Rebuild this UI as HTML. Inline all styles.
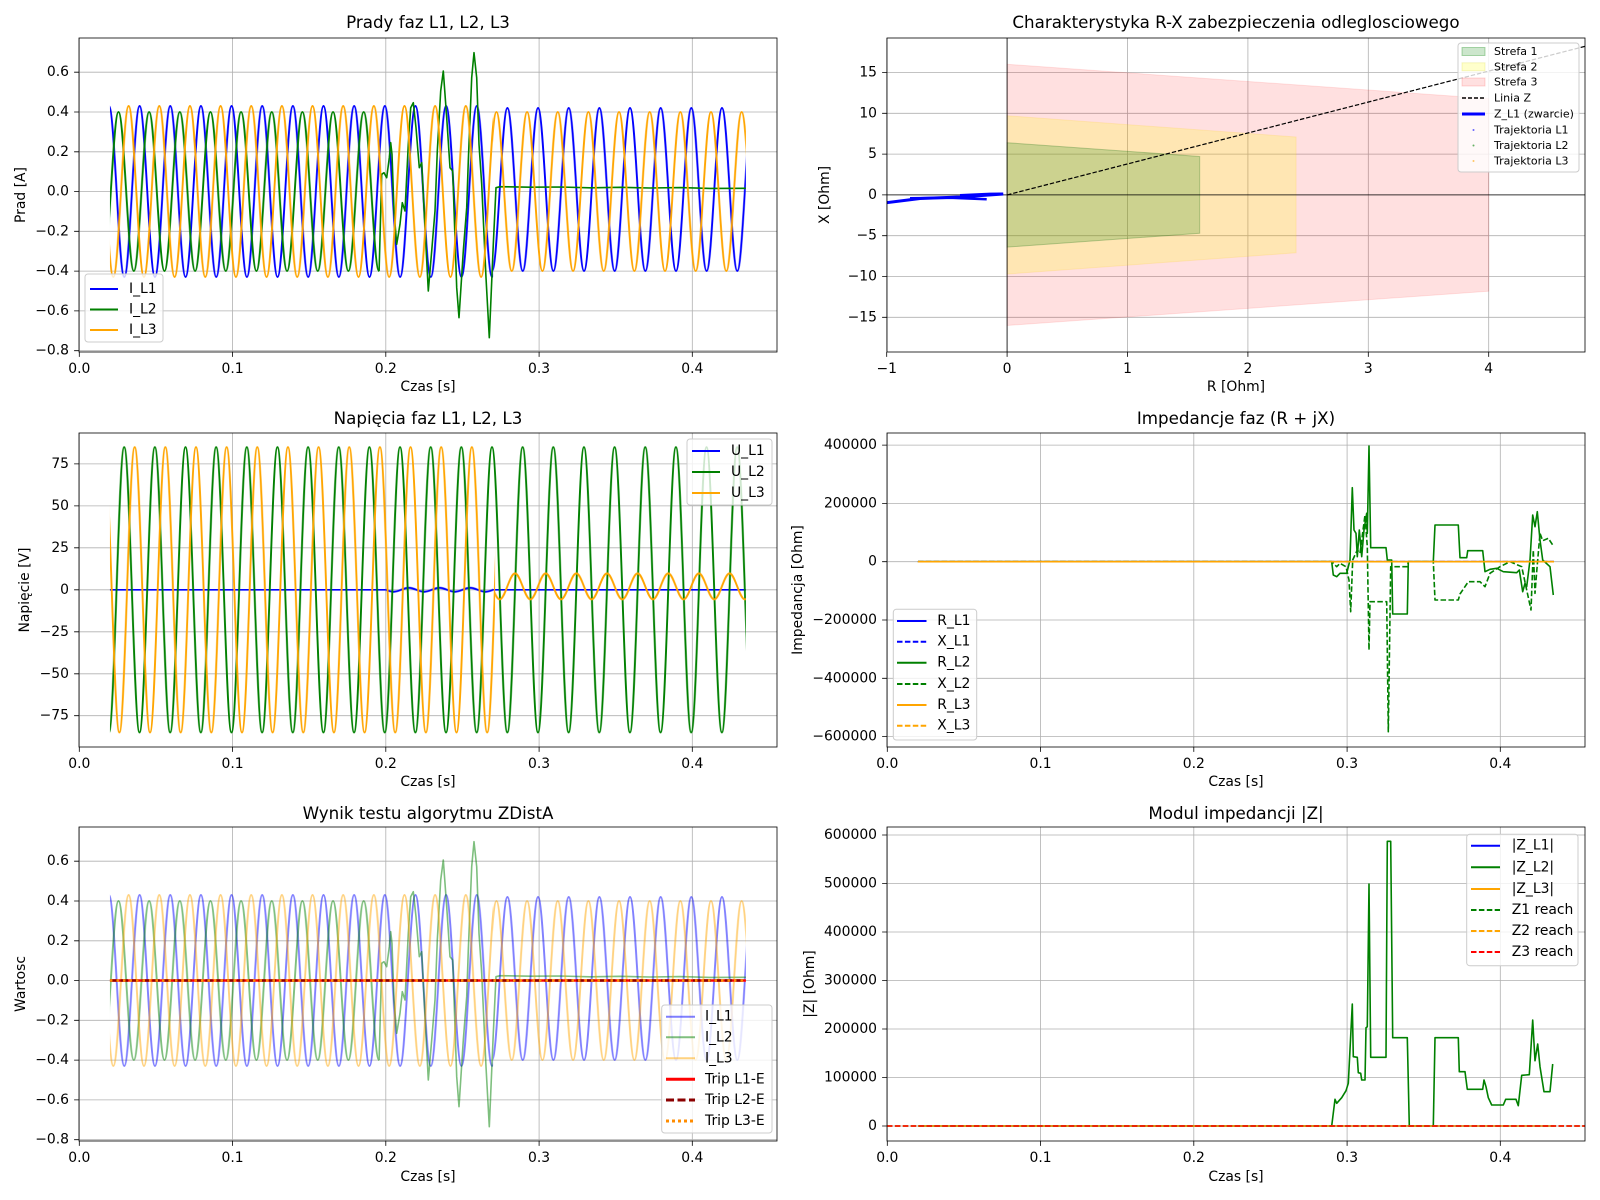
<!DOCTYPE html>
<html><head><meta charset="utf-8">
<style>
html,body{margin:0;padding:0;background:#fff;}
svg{display:block;font-family:"DejaVu Sans","Liberation Sans",sans-serif;}
.tk{font-size:13.9px;fill:#000;}
.tt{font-size:16.7px;fill:#000;text-anchor:middle;}
.lb{font-size:13.9px;fill:#000;text-anchor:middle;}
.lg{font-size:13.9px;fill:#000;}
.lgs{font-size:11px;fill:#000;}
</style></head>
<body>
<svg width="1600" height="1200" viewBox="0 0 1600 1200" xmlns="http://www.w3.org/2000/svg" xmlns:xlink="http://www.w3.org/1999/xlink">
<defs>
<clipPath id="c1"><rect x="79" y="38" width="698" height="314"/></clipPath>
<clipPath id="c2"><rect x="887" y="38" width="698" height="314"/></clipPath>
<clipPath id="c3"><rect x="79" y="433" width="698" height="314"/></clipPath>
<clipPath id="c4"><rect x="887" y="433" width="698" height="314"/></clipPath>
<clipPath id="c5"><rect x="79" y="827" width="698" height="314"/></clipPath>
<clipPath id="c6"><rect x="887" y="827" width="698" height="314"/></clipPath>

<pattern id="pL1a" patternUnits="userSpaceOnUse" x="108.97" y="41.5" width="30.65" height="300">
<path d="M-2,64.5 L0,64.5 c2.773,0 5.164,41.7 7.6625,85.5 c2.499,43.8 4.889,85.5 7.6625,85.5 c2.773,0 5.164,-41.7 7.6625,-85.5 c2.499,-43.8 4.889,-85.5 7.6625,-85.5 l2,0" fill="none" stroke="#0000ff" stroke-width="1.9"/></pattern>
<pattern id="pL1b" patternUnits="userSpaceOnUse" x="108.97" y="39.5" width="30.65" height="300">
<path d="M-2,68.5 L0,68.5 c2.773,0 5.164,39.75 7.6625,81.5 c2.499,41.75 4.889,81.5 7.6625,81.5 c2.773,0 5.164,-39.75 7.6625,-81.5 c2.499,-41.75 4.889,-81.5 7.6625,-81.5 l2,0" fill="none" stroke="#0000ff" stroke-width="1.9"/></pattern>
<pattern id="pL2" patternUnits="userSpaceOnUse" x="118.5" y="41.5" width="30.65" height="300">
<path d="M-2,70.4 L0,70.4 c2.773,0 5.164,38.82 7.6625,79.6 c2.499,40.78 4.889,79.6 7.6625,79.6 c2.773,0 5.164,-38.82 7.6625,-79.6 c2.499,-40.78 4.889,-79.6 7.6625,-79.6 l2,0" fill="none" stroke="#008000" stroke-width="1.9"/></pattern>
<pattern id="pL3a" patternUnits="userSpaceOnUse" x="128.65" y="41.5" width="30.65" height="300">
<path d="M-2,64.5 L0,64.5 c2.773,0 5.164,41.7 7.6625,85.5 c2.499,43.8 4.889,85.5 7.6625,85.5 c2.773,0 5.164,-41.7 7.6625,-85.5 c2.499,-43.8 4.889,-85.5 7.6625,-85.5 l2,0" fill="none" stroke="#ffa500" stroke-width="1.9"/></pattern>
<pattern id="pL3b" patternUnits="userSpaceOnUse" x="128.65" y="41.5" width="30.65" height="300">
<path d="M-2,70.4 L0,70.4 c2.773,0 5.164,38.82 7.6625,79.6 c2.499,40.78 4.889,79.6 7.6625,79.6 c2.773,0 5.164,-38.82 7.6625,-79.6 c2.499,-40.78 4.889,-79.6 7.6625,-79.6 l2,0" fill="none" stroke="#ffa500" stroke-width="1.9"/></pattern>

<pattern id="pU1" patternUnits="userSpaceOnUse" x="408.8" y="439.8" width="30.65" height="300">
<path d="M-2,148 L0,148 c2.773,0 5.164,0.98 7.6625,2 c2.499,1.02 4.889,2 7.6625,2 c2.773,0 5.164,-0.98 7.6625,-2 c2.499,-1.02 4.889,-2 7.6625,-2 l2,0" fill="none" stroke="#0000ff" stroke-width="1.9"/></pattern>
<pattern id="pU2" patternUnits="userSpaceOnUse" x="124.2" y="439.8" width="30.65" height="300">
<path d="M-2,7.3 L0,7.3 c2.773,0 5.164,69.6 7.6625,142.7 c2.499,73.1 4.889,142.7 7.6625,142.7 c2.773,0 5.164,-69.6 7.6625,-142.7 c2.499,-73.1 4.889,-142.7 7.6625,-142.7 l2,0" fill="none" stroke="#008000" stroke-width="1.9"/></pattern>
<pattern id="pU3" patternUnits="userSpaceOnUse" x="134.7" y="439.8" width="30.65" height="300">
<path d="M-2,7.3 L0,7.3 c2.773,0 5.164,69.6 7.6625,142.7 c2.499,73.1 4.889,142.7 7.6625,142.7 c2.773,0 5.164,-69.6 7.6625,-142.7 c2.499,-73.1 4.889,-142.7 7.6625,-142.7 l2,0" fill="none" stroke="#ffa500" stroke-width="1.9"/></pattern>
<pattern id="pU3s" patternUnits="userSpaceOnUse" x="515" y="436.4" width="30.65" height="300">
<path d="M-2,137 L0,137 c2.773,0 5.164,6.34 7.6625,13 c2.499,6.66 4.889,13 7.6625,13 c2.773,0 5.164,-6.34 7.6625,-13 c2.499,-6.66 4.889,-13 7.6625,-13 l2,0" fill="none" stroke="#ffa500" stroke-width="1.9"/></pattern>
</defs>
<rect width="1600" height="1200" fill="#fff"/>

<g fill="none" stroke="#b0b0b0" stroke-width="0.8">
<path d="M79.3 38V352M232.6 38V352M385.8 38V352M539.1 38V352M692.3 38V352M79 72.2H777M79 112H777M79 151.8H777M79 191.5H777M79 231.3H777M79 271.1H777M79 310.9H777M79 350.7H777"/>
<path d="M886.7 38V352M1007.1 38V352M1127.5 38V352M1247.9 38V352M1368.3 38V352M1488.7 38V352M887 72.5H1585M887 113.3H1585M887 154.1H1585M887 194.9H1585M887 235.7H1585M887 276.5H1585M887 317.3H1585"/>
<path d="M79.3 433V747M232.6 433V747M385.8 433V747M539.1 433V747M692.3 433V747M79 463.9H777M79 505.9H777M79 547.8H777M79 589.8H777M79 631.8H777M79 673.8H777M79 715.7H777"/>
<path d="M887.3 433V747M1040.6 433V747M1193.8 433V747M1347.1 433V747M1500.3 433V747M887 445.1H1585M887 503.4H1585M887 561.7H1585M887 620H1585M887 678.3H1585M887 736.6H1585"/>
<path d="M79.3 827V1141M232.6 827V1141M385.8 827V1141M539.1 827V1141M692.3 827V1141M79 861.2H777M79 901H777M79 940.8H777M79 980.5H777M79 1020.3H777M79 1060.1H777M79 1099.9H777M79 1139.7H777"/>
<path d="M887.3 827V1141M1040.6 827V1141M1193.8 827V1141M1347.1 827V1141M1500.3 827V1141M887 835H1585M887 883.5H1585M887 932H1585M887 980.5H1585M887 1029H1585M887 1077.5H1585M887 1126H1585"/>
</g>

<g clip-path="url(#c1)">
<g id="sL1"><rect x="109.95" y="41.5" width="383.15" height="300" fill="url(#pL1a)"/><rect x="493.1" y="39.5" width="252.8" height="300" fill="url(#pL1b)"/></g>
<g id="sL2"><rect x="109.95" y="41.5" width="269.15" height="300" fill="url(#pL2)"/>
<polyline fill="none" stroke="#008000" stroke-width="1.6" stroke-linejoin="round" points="379.1,271.1 381.7,174.3 384,172.7 386.7,177.7 389.3,157.7 390.7,142.7 392,154.3 394,211 396.7,244.3 400,224.3 402.3,202.7 405,211 408.3,144.3 410.7,107.7 413.3,102.7 416,127.7 419.3,167.7 421.7,162.7 425,227.7 428.3,291 431.7,251 435,211 437.3,151 440.7,91 443.3,71 446.7,117.7 450,167.7 452.7,171 456.7,287.7 459,317.7 463.3,251 466.7,207.7 468.3,161 471.7,77.7 474,52.7 476.7,77.7 479,144.3 481.7,184.3 486,277.7 489.3,337.7 493.3,244.3 496,187.7 500,186.7 530,187.2 560,187 590,187.8 620,187.3 650,188 680,187.6 710,188.4 745.9,188.3"/></g>
<g id="sL3"><rect x="109.95" y="41.5" width="383.15" height="300" fill="url(#pL3a)"/><rect x="493.1" y="41.5" width="252.8" height="300" fill="url(#pL3b)"/></g>
</g>

<g clip-path="url(#c2)">
<polygon points="1007.1,64.3 1488.7,98.6 1488.7,291.2 1007.1,325.5" fill="rgba(255,0,0,0.12)" stroke="rgba(255,0,0,0.1)"/>
<polygon points="1007.1,115.75 1296.1,137 1296.1,252.8 1007.1,274.05" fill="rgba(255,255,0,0.2)" stroke="rgba(255,200,0,0.15)"/>
<polygon points="1007.1,142.7 1199.7,156.5 1199.7,233.3 1007.1,247.1" fill="rgba(0,128,0,0.2)" stroke="rgba(0,100,0,0.25)"/>
<line x1="887" x2="1585" y1="194.9" y2="194.9" stroke="#000" stroke-width="0.8"/>
<line x1="1007.1" x2="1007.1" y1="38" y2="352" stroke="#000" stroke-width="0.8"/>
<line x1="1007.1" y1="194.9" x2="1591" y2="44.8" stroke="#000" stroke-width="1.2" stroke-dasharray="4.4,1.9"/>
<polyline points="884,203 920,198.5 960,197 1003.3,194" fill="none" stroke="#0000ff" stroke-width="3"/>
<polyline points="910,198.3 950,197.8 986.7,199.3" fill="none" stroke="#0000ff" stroke-width="2.5"/>
<polyline points="960,195 990,193.6 1003,193.5" fill="none" stroke="#0000ff" stroke-width="2"/>
</g>

<g clip-path="url(#c3)">
<path d="M109.95 589.8H385.8M493 589.8H745.9" stroke="#0000ff" stroke-width="1.6"/>
<rect x="385.8" y="439.8" width="107.2" height="300" fill="url(#pU1)"/>
<rect x="109.95" y="439.8" width="635.95" height="300" fill="url(#pU2)"/>
<rect x="109.95" y="439.8" width="385.15" height="300" fill="url(#pU3)"/>
<rect x="495.1" y="436.4" width="250.8" height="300" fill="url(#pU3s)"/>
</g>

<g clip-path="url(#c4)" fill="none" stroke-width="1.6" stroke-linejoin="round">
<path d="M917.95 561.7H1553.9" stroke="#0000ff"/>
<path d="M917.95 561.7H1553.9" stroke="#0000ff" stroke-dasharray="5.5,2.4"/>
<polyline stroke="#008000" points="917.95,561.7 1331.7,561.7 1333.3,575 1336.7,576.7 1340,573.3 1346.7,573.3 1350,560 1352.3,487.7 1354,530 1356,533.3 1357.3,556.7 1359.3,530 1361.7,556.7 1364,530 1366.7,513.3 1367.3,533.3 1369,446 1370.7,547.7 1386,547.7 1387.3,560 1391.7,560 1392.7,614 1407.3,614 1408.3,561.7 1433.3,561.7 1435,525 1458.3,525 1460,557.7 1466.7,557.7 1467.7,550.7 1482.7,550.7 1485,571.7 1490,569.3 1496.7,568.3 1503.3,571.7 1516.7,572.7 1519.3,570 1522.7,591.7 1525,583.3 1526.7,586.7 1530,560 1532.7,515 1535,526.7 1537.3,511.7 1540,540 1542.7,560 1550,566.7 1553.3,595"/>
<polyline stroke="#008000" stroke-dasharray="5.5,2.4" points="917.95,561.7 1331.7,561.7 1333.3,563.3 1336.7,566.7 1340,563.3 1346,566.7 1349,580 1350.7,611.7 1352.7,560 1357.3,550 1360,553.3 1365,515 1367.3,546.7 1369,650 1370,601.7 1386.7,601.7 1388.3,731.7 1390.7,566.7 1407.3,566.7 1408.3,561.7 1433.3,561.7 1435,600 1458.3,600 1460,594 1468.3,581.7 1480,581.7 1485,586.7 1490,573.3 1500,566.7 1510,561.7 1521.7,566.7 1526.7,590 1531,610 1533.3,550 1535,593.3 1536.7,571.7 1540,533.3 1542.7,540.7 1548.3,538.3 1552.7,545"/>
<path d="M917.95 561.7H1553.9" stroke="#ffa500"/>
<path d="M917.95 561.7H1553.9" stroke="#ffa500" stroke-dasharray="5.5,2.4"/>
</g>

<g clip-path="url(#c5)">
<use xlink:href="#sL1" href="#sL1" y="789" opacity="0.5"/>
<use xlink:href="#sL2" href="#sL2" y="789" opacity="0.5"/>
<use xlink:href="#sL3" href="#sL3" y="789" opacity="0.5"/>
<path d="M109.95 980.5H745.9" stroke="#ff0000" stroke-width="2.5"/>
<path d="M109.95 980.5H745.9" stroke="#8b0000" stroke-width="2.5" stroke-dasharray="7.4,3.2"/>
<path d="M109.95 980.5H745.9" stroke="#ff8c00" stroke-width="2.5" stroke-dasharray="2.5,4"/>
</g>

<g clip-path="url(#c6)" fill="none" stroke-width="1.6" stroke-linejoin="round">
<path d="M917.95 1126H1553.9" stroke="#0000ff"/>
<polyline stroke="#008000" points="917.95,1126 1331.7,1126 1335,1099.3 1336.7,1103.3 1341.7,1097.7 1346,1090.7 1348.3,1083.3 1352.3,1004 1353.3,1056.7 1357.3,1057.3 1358.3,1072.7 1360.7,1073.3 1361.7,1080 1365,1080 1366,1027.7 1367.3,1026.7 1369,884 1370.7,1057.3 1386,1057.3 1387.3,841.3 1390.7,841.3 1392.7,1037.7 1407.3,1037.7 1409.3,1126 1433.3,1126 1435,1037.7 1458.3,1037.7 1459.3,1071.7 1465,1071.7 1467.3,1089.3 1482.7,1089.3 1484,1080 1486,1086.7 1488.3,1097.7 1491.7,1105 1503.3,1105 1505.7,1099.3 1516,1099.3 1518.3,1105.7 1521.7,1075.3 1529.3,1074.7 1532.7,1020 1535,1060.7 1537.7,1044 1540,1066.7 1544,1091.7 1550,1091.7 1552.7,1064"/>
<path d="M917.95 1126H1553.9" stroke="#ffa500"/>
<path d="M887 1126H1585" stroke="#008000" stroke-dasharray="5.5,2.4"/>
<path d="M887 1126H1585" stroke="#ffa500" stroke-dasharray="5.5,2.4"/>
<path d="M887 1126H1585" stroke="#ff0000" stroke-dasharray="5.5,2.4"/>
</g>

<g fill="none" stroke="#000" stroke-width="0.8">
<rect x="79" y="38" width="698" height="314"/><rect x="887" y="38" width="698" height="314"/>
<rect x="79" y="433" width="698" height="314"/><rect x="887" y="433" width="698" height="314"/>
<rect x="79" y="827" width="698" height="314"/><rect x="887" y="827" width="698" height="314"/>
<path d="M79.3 352v4.9M232.6 352v4.9M385.8 352v4.9M539.1 352v4.9M692.3 352v4.9M79 72.2h-4.9M79 112h-4.9M79 151.8h-4.9M79 191.5h-4.9M79 231.3h-4.9M79 271.1h-4.9M79 310.9h-4.9M79 350.7h-4.9"/>
<path d="M886.7 352v4.9M1007.1 352v4.9M1127.5 352v4.9M1247.9 352v4.9M1368.3 352v4.9M1488.7 352v4.9M887 72.5h-4.9M887 113.3h-4.9M887 154.1h-4.9M887 194.9h-4.9M887 235.7h-4.9M887 276.5h-4.9M887 317.3h-4.9"/>
<path d="M79.3 747v4.9M232.6 747v4.9M385.8 747v4.9M539.1 747v4.9M692.3 747v4.9M79 463.9h-4.9M79 505.9h-4.9M79 547.8h-4.9M79 589.8h-4.9M79 631.8h-4.9M79 673.8h-4.9M79 715.7h-4.9"/>
<path d="M887.3 747v4.9M1040.6 747v4.9M1193.8 747v4.9M1347.1 747v4.9M1500.3 747v4.9M887 445.1h-4.9M887 503.4h-4.9M887 561.7h-4.9M887 620h-4.9M887 678.3h-4.9M887 736.6h-4.9"/>
<path d="M79.3 1141v4.9M232.6 1141v4.9M385.8 1141v4.9M539.1 1141v4.9M692.3 1141v4.9M79 861.2h-4.9M79 901h-4.9M79 940.8h-4.9M79 980.5h-4.9M79 1020.3h-4.9M79 1060.1h-4.9M79 1099.9h-4.9M79 1139.7h-4.9"/>
<path d="M887.3 1141v4.9M1040.6 1141v4.9M1193.8 1141v4.9M1347.1 1141v4.9M1500.3 1141v4.9M887 835h-4.9M887 883.5h-4.9M887 932h-4.9M887 980.5h-4.9M887 1029h-4.9M887 1077.5h-4.9M887 1126h-4.9"/>
</g>

<text class="tt" x="428" y="28">Prady faz L1, L2, L3</text>
<text class="tt" x="1236" y="28">Charakterystyka R-X zabezpieczenia odleglosciowego</text>
<text class="tt" x="428" y="424">Napięcia faz L1, L2, L3</text>
<text class="tt" x="1236" y="424">Impedancje faz (R + jX)</text>
<text class="tt" x="428" y="819">Wynik testu algorytmu ZDistA</text>
<text class="tt" x="1236" y="819">Modul impedancji |Z|</text>

<text class="lb" x="428" y="391">Czas [s]</text>
<text class="lb" x="1236" y="391">R [Ohm]</text>
<text class="lb" x="428" y="786">Czas [s]</text>
<text class="lb" x="1236" y="786">Czas [s]</text>
<text class="lb" x="428" y="1181">Czas [s]</text>
<text class="lb" x="1236" y="1181">Czas [s]</text>

<text class="lb" transform="translate(25,195) rotate(-90)">Prad [A]</text>
<text class="lb" transform="translate(829,195) rotate(-90)">X [Ohm]</text>
<text class="lb" transform="translate(29,590) rotate(-90)">Napięcie [V]</text>
<text class="lb" transform="translate(802,590) rotate(-90)">Impedancja [Ohm]</text>
<text class="lb" transform="translate(25,984) rotate(-90)">Wartosc</text>
<text class="lb" transform="translate(814,984) rotate(-90)">|Z| [Ohm]</text>

<g class="tk" text-anchor="middle">
<text x="79.3" y="373">0.0</text><text x="232.6" y="373">0.1</text><text x="385.8" y="373">0.2</text><text x="539.1" y="373">0.3</text><text x="692.3" y="373">0.4</text>
<text x="886.7" y="373">−1</text><text x="1007.1" y="373">0</text><text x="1127.5" y="373">1</text><text x="1247.9" y="373">2</text><text x="1368.3" y="373">3</text><text x="1488.7" y="373">4</text>
<text x="79.3" y="768">0.0</text><text x="232.6" y="768">0.1</text><text x="385.8" y="768">0.2</text><text x="539.1" y="768">0.3</text><text x="692.3" y="768">0.4</text>
<text x="887.3" y="768">0.0</text><text x="1040.6" y="768">0.1</text><text x="1193.8" y="768">0.2</text><text x="1347.1" y="768">0.3</text><text x="1500.3" y="768">0.4</text>
<text x="79.3" y="1162">0.0</text><text x="232.6" y="1162">0.1</text><text x="385.8" y="1162">0.2</text><text x="539.1" y="1162">0.3</text><text x="692.3" y="1162">0.4</text>
<text x="887.3" y="1162">0.0</text><text x="1040.6" y="1162">0.1</text><text x="1193.8" y="1162">0.2</text><text x="1347.1" y="1162">0.3</text><text x="1500.3" y="1162">0.4</text>
</g>
<g class="tk" text-anchor="end" dominant-baseline="central">
<text x="69" y="72.2">0.6</text><text x="69" y="112">0.4</text><text x="69" y="151.8">0.2</text><text x="69" y="191.5">0.0</text><text x="69" y="231.3">−0.2</text><text x="69" y="271.1">−0.4</text><text x="69" y="310.9">−0.6</text><text x="69" y="350.7">−0.8</text>
<text x="877" y="72.5">15</text><text x="877" y="113.3">10</text><text x="877" y="154.1">5</text><text x="877" y="194.9">0</text><text x="877" y="235.7">−5</text><text x="877" y="276.5">−10</text><text x="877" y="317.3">−15</text>
<text x="69" y="463.9">75</text><text x="69" y="505.9">50</text><text x="69" y="547.8">25</text><text x="69" y="589.8">0</text><text x="69" y="631.8">−25</text><text x="69" y="673.8">−50</text><text x="69" y="715.7">−75</text>
<text x="877" y="445.1">400000</text><text x="877" y="503.4">200000</text><text x="877" y="561.7">0</text><text x="877" y="620">−200000</text><text x="877" y="678.3">−400000</text><text x="877" y="736.6">−600000</text>
<text x="69" y="861.2">0.6</text><text x="69" y="901">0.4</text><text x="69" y="940.8">0.2</text><text x="69" y="980.5">0.0</text><text x="69" y="1020.3">−0.2</text><text x="69" y="1060.1">−0.4</text><text x="69" y="1099.9">−0.6</text><text x="69" y="1139.7">−0.8</text>
<text x="877" y="835">600000</text><text x="877" y="883.5">500000</text><text x="877" y="932">400000</text><text x="877" y="980.5">300000</text><text x="877" y="1029">200000</text><text x="877" y="1077.5">100000</text><text x="877" y="1126">0</text>
</g>

<rect x="85" y="274" width="78" height="68" rx="3" fill="rgba(255,255,255,0.8)" stroke="#ccc" stroke-width="1"/>
<line x1="90" y1="289" x2="118" y2="289" stroke="#0000ff" stroke-width="2"/>
<line x1="90" y1="309.5" x2="118" y2="309.5" stroke="#008000" stroke-width="2"/>
<line x1="90" y1="330" x2="118" y2="330" stroke="#ffa500" stroke-width="2"/>
<g class="lg" dominant-baseline="central"><text x="129" y="289">I_L1</text><text x="129" y="309.5">I_L2</text><text x="129" y="330">I_L3</text></g>

<rect x="1458" y="43" width="121" height="129" rx="3" fill="rgba(255,255,255,0.8)" stroke="#ccc" stroke-width="1"/>
<rect x="1462" y="47.5" width="23" height="8" fill="rgba(0,128,0,0.2)" stroke="rgba(0,128,0,0.3)"/>
<rect x="1462" y="62.8" width="23" height="8" fill="rgba(255,255,0,0.2)" stroke="rgba(200,200,0,0.2)"/>
<rect x="1462" y="78" width="23" height="8" fill="rgba(255,0,0,0.12)" stroke="rgba(255,0,0,0.15)"/>
<line x1="1462" y1="98" x2="1485" y2="98" stroke="#000" stroke-width="1.5" stroke-dasharray="4,2"/>
<line x1="1462" y1="114" x2="1485" y2="114" stroke="#0000ff" stroke-width="3"/>
<circle cx="1473.5" cy="130" r="1" fill="#0000ff" opacity="0.6"/>
<circle cx="1473.5" cy="145.5" r="1" fill="#008000" opacity="0.6"/>
<circle cx="1473.5" cy="161" r="1" fill="#ffa500" opacity="0.6"/>
<g class="lgs" dominant-baseline="central"><text x="1494" y="51.5">Strefa 1</text><text x="1494" y="66.8">Strefa 2</text><text x="1494" y="82">Strefa 3</text><text x="1494" y="98">Linia Z</text><text x="1494" y="114">Z_L1 (zwarcie)</text><text x="1494" y="130">Trajektoria L1</text><text x="1494" y="145.5">Trajektoria L2</text><text x="1494" y="161">Trajektoria L3</text></g>

<rect x="687" y="439" width="85" height="66" rx="3" fill="rgba(255,255,255,0.8)" stroke="#ccc" stroke-width="1"/>
<line x1="692" y1="451" x2="720" y2="451" stroke="#0000ff" stroke-width="2"/>
<line x1="692" y1="472" x2="720" y2="472" stroke="#008000" stroke-width="2"/>
<line x1="692" y1="493" x2="720" y2="493" stroke="#ffa500" stroke-width="2"/>
<g class="lg" dominant-baseline="central"><text x="731" y="451">U_L1</text><text x="731" y="472">U_L2</text><text x="731" y="493">U_L3</text></g>

<rect x="893.3" y="609.3" width="83.4" height="130.7" rx="3" fill="rgba(255,255,255,0.8)" stroke="#ccc" stroke-width="1"/>
<line x1="897" y1="621" x2="926.5" y2="621" stroke="#0000ff" stroke-width="2"/>
<line x1="897" y1="641.7" x2="926.5" y2="641.7" stroke="#0000ff" stroke-width="2" stroke-dasharray="5.5,2.4"/>
<line x1="897" y1="662.7" x2="926.5" y2="662.7" stroke="#008000" stroke-width="2"/>
<line x1="897" y1="684" x2="926.5" y2="684" stroke="#008000" stroke-width="2" stroke-dasharray="5.5,2.4"/>
<line x1="897" y1="705" x2="926.5" y2="705" stroke="#ffa500" stroke-width="2"/>
<line x1="897" y1="725.7" x2="926.5" y2="725.7" stroke="#ffa500" stroke-width="2" stroke-dasharray="5.5,2.4"/>
<g class="lg" dominant-baseline="central"><text x="937.3" y="621">R_L1</text><text x="937.3" y="641.7">X_L1</text><text x="937.3" y="662.7">R_L2</text><text x="937.3" y="684">X_L2</text><text x="937.3" y="705">R_L3</text><text x="937.3" y="725.7">X_L3</text></g>

<rect x="661.7" y="1005" width="110.3" height="128" rx="3" fill="rgba(255,255,255,0.8)" stroke="#ccc" stroke-width="1"/>
<line x1="666" y1="1016.7" x2="695" y2="1016.7" stroke="#0000ff" stroke-opacity="0.5" stroke-width="2"/>
<line x1="666" y1="1037.3" x2="695" y2="1037.3" stroke="#008000" stroke-opacity="0.5" stroke-width="2"/>
<line x1="666" y1="1058.3" x2="695" y2="1058.3" stroke="#ffa500" stroke-opacity="0.5" stroke-width="2"/>
<line x1="666" y1="1079.3" x2="695" y2="1079.3" stroke="#ff0000" stroke-width="3"/>
<line x1="666" y1="1100" x2="695" y2="1100" stroke="#8b0000" stroke-width="3" stroke-dasharray="8,3.5"/>
<line x1="666" y1="1121" x2="695" y2="1121" stroke="#ff8c00" stroke-width="3" stroke-dasharray="3,3"/>
<g class="lg" dominant-baseline="central"><text x="705" y="1016.7">I_L1</text><text x="705" y="1037.3">I_L2</text><text x="705" y="1058.3">I_L3</text><text x="705" y="1079.3">Trip L1-E</text><text x="705" y="1100">Trip L2-E</text><text x="705" y="1121">Trip L3-E</text></g>

<rect x="1466.7" y="834.3" width="111.3" height="131.4" rx="3" fill="rgba(255,255,255,0.8)" stroke="#ccc" stroke-width="1"/>
<line x1="1471" y1="845.7" x2="1500" y2="845.7" stroke="#0000ff" stroke-width="2"/>
<line x1="1471" y1="867.3" x2="1500" y2="867.3" stroke="#008000" stroke-width="2"/>
<line x1="1471" y1="889" x2="1500" y2="889" stroke="#ffa500" stroke-width="2"/>
<line x1="1471" y1="910" x2="1500" y2="910" stroke="#008000" stroke-width="2" stroke-dasharray="5.5,2.4"/>
<line x1="1471" y1="931" x2="1500" y2="931" stroke="#ffa500" stroke-width="2" stroke-dasharray="5.5,2.4"/>
<line x1="1471" y1="952" x2="1500" y2="952" stroke="#ff0000" stroke-width="2" stroke-dasharray="5.5,2.4"/>
<g class="lg" dominant-baseline="central"><text x="1511.7" y="845.7">|Z_L1|</text><text x="1511.7" y="867.3">|Z_L2|</text><text x="1511.7" y="889">|Z_L3|</text><text x="1511.7" y="910">Z1 reach</text><text x="1511.7" y="931">Z2 reach</text><text x="1511.7" y="952">Z3 reach</text></g>
</svg>
</body></html>
